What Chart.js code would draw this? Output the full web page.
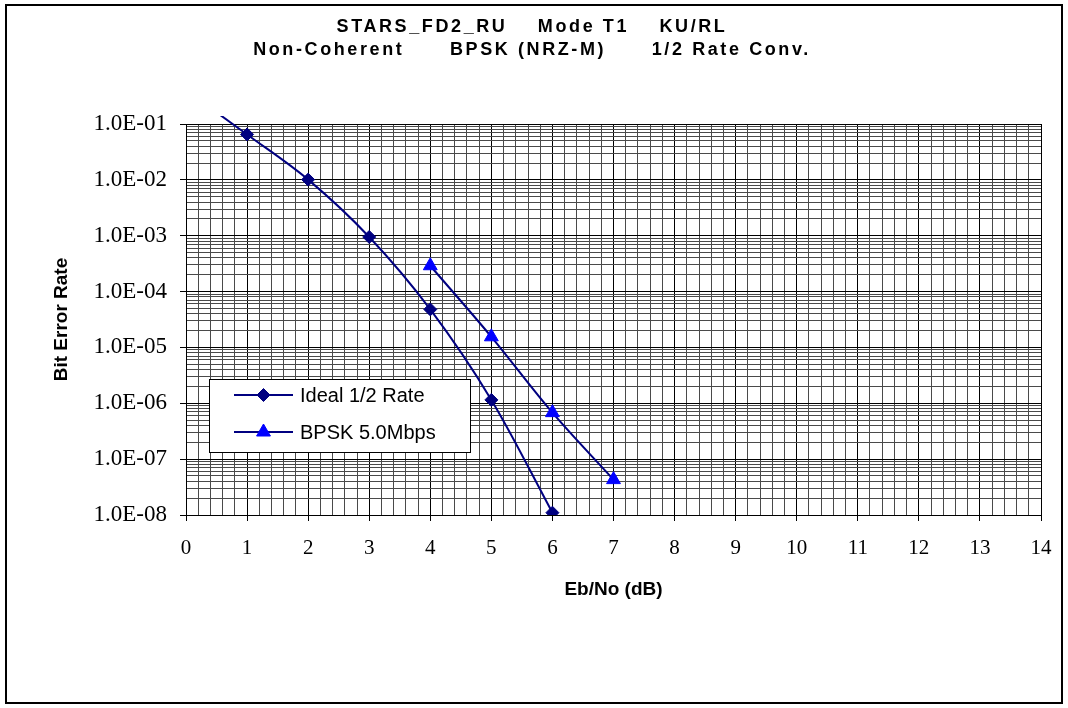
<!DOCTYPE html>
<html>
<head>
<meta charset="utf-8">
<script src="https://cdn.jsdelivr.net/npm/chart.js@4.4.1/dist/chart.umd.min.js"></script>
<style>
  html, body { margin: 0; padding: 0; background: #fff; }
  #wrap { width: 1068px; height: 708px; position: relative; }
</style>
</head>
<body>
<div id="wrap"><canvas id="berChart"></canvas></div>
<script>
// データ
const idealX = [0, 1, 2, 3, 4, 5, 6];
const idealY = [0.4, 0.065, 0.0101, 9.5e-4, 4.8e-5, 1.15e-6, 1.1e-8];
const bpskX = [4, 5, 6, 7];
const bpskY = [2.9e-4, 1.55e-5, 6.8e-7, 4.3e-8];

const seriesNames = ['Ideal 1/2 Rate', 'BPSK 5.0Mbps'];
const titleLines = ['STARS_FD2_RU    Mode T1    KU/RL', 'Non-Coherent      BPSK (NRZ-M)      1/2 Rate Conv.'];
const xTickLabels = ['0', '1', '2', '3', '4', '5', '6', '7', '8', '9', '10', '11', '12', '13', '14'];
const yTickLabels = ['1.0E-08', '1.0E-07', '1.0E-06', '1.0E-05', '1.0E-04', '1.0E-03', '1.0E-02', '1.0E-01'];

const NAVY = '#000080';
const BLUE = '#0000ff';

// 目盛り（0.2刻み / 対数 1..9）
function buildXTicks(scale) {
  const ticks = [];
  for (let i = 0; i <= 70; i++) ticks.push({ value: i / 5 });
  scale.ticks = ticks;
}
function buildYTicks(scale) {
  const ticks = [];
  for (let e = -8; e <= -1; e++) {
    for (let m = 1; m <= 9; m++) {
      if (e === -1 && m > 1) break;
      ticks.push({ value: m * Math.pow(10, e) });
    }
  }
  scale.ticks = ticks;
}
const isInt = v => Math.abs(v - Math.round(v)) < 1e-6;
const isDecade = v => isInt(Math.log10(v));

// 枠・タイトル・凡例
const framePlugin = {
  id: 'frame',
  beforeDraw(chart) {
    const c = chart.ctx;
    c.save();
    c.fillStyle = '#fff';
    c.fillRect(0, 0, chart.width, chart.height);
    c.restore();
  },
  afterDraw(chart) {
    const c = chart.ctx;
    c.save();
    c.strokeStyle = '#000';
    c.lineWidth = 2;
    c.strokeRect(6, 5, 1056, 698);

    c.fillStyle = '#000';
    c.textAlign = 'center';
    c.textBaseline = 'middle';
    c.font = 'bold 18px "Liberation Sans", Arial, sans-serif';
    c.letterSpacing = '2.6px';
    c.fillText(titleLines[0], 532, 27);
    c.fillText(titleLines[1], 532, 50);
    c.letterSpacing = '0px';

    // 凡例
    const bx = 209.5, by = 379.5, bw = 261, bh = 73;
    c.fillStyle = '#fff';
    c.fillRect(bx, by, bw, bh);
    c.strokeStyle = '#000';
    c.lineWidth = 1;
    c.strokeRect(bx, by, bw, bh);
    const rows = [395, 432];
    chart.data.datasets.forEach((ds, i) => {
      const y = rows[i];
      c.strokeStyle = ds.borderColor;
      c.lineWidth = 2;
      c.beginPath();
      c.moveTo(234, y);
      c.lineTo(293, y);
      c.stroke();
      c.fillStyle = ds.pointBackgroundColor;
      c.strokeStyle = ds.pointBorderColor;
      c.lineWidth = 1;
      Chart.helpers.drawPoint(c, { pointStyle: ds.pointStyle, radius: ds.legendRadius, borderWidth: 1, rotation: 0 }, 263.5, y);
      c.fillStyle = '#000';
      c.textAlign = 'left';
      c.font = '20px "Liberation Sans", Arial, sans-serif';
      c.fillText(ds.label, 300, y + 1);
    });
    c.restore();
  }
};

const ctx = document.getElementById('berChart').getContext('2d');
new Chart(ctx, {
  type: 'scatter',
  data: {
    datasets: [
      {
        label: seriesNames[0],
        data: idealX.map((x, i) => ({ x, y: idealY[i] })),
        showLine: true,
        tension: 0.35,
        borderColor: NAVY,
        borderWidth: 2,
        pointStyle: 'rectRot',
        pointRadius: c => (c.dataIndex === 0 ? 0 : 6.5),
        legendRadius: 6.5,
        pointBackgroundColor: NAVY,
        pointBorderColor: NAVY,
        pointBorderWidth: 1,
        clip: { left: 0, top: 8, right: 0, bottom: 0 },
      },
      {
        label: seriesNames[1],
        data: bpskX.map((x, i) => ({ x, y: bpskY[i] })),
        showLine: true,
        tension: 0.35,
        borderColor: NAVY,
        borderWidth: 2,
        pointStyle: 'triangle',
        pointRadius: 8,
        legendRadius: 8,
        pointBackgroundColor: BLUE,
        pointBorderColor: BLUE,
        pointBorderWidth: 1,
      },
    ],
  },
  options: {
    responsive: true,
    maintainAspectRatio: false,
    animation: false,
    layout: { padding: { left: 40, top: 124, right: 27, bottom: 90 } },
    plugins: {
      legend: { display: false },
      title: { display: false },
      tooltip: { enabled: false },
    },
    scales: {
      x: {
        type: 'linear',
        min: 0,
        max: 14,
        afterBuildTicks: buildXTicks,
        afterFit: s => { s.height = 103; },
        border: { color: '#000', width: 1 },
        grid: {
          color: c => (c.tick && isInt(c.tick.value) ? '#000' : '#4a4a4a'),
          tickColor: c => (c.tick && isInt(c.tick.value) ? '#000' : 'rgba(0,0,0,0)'),
          tickLength: 6,
        },
        ticks: {
          autoSkip: false,
          maxRotation: 0,
          padding: 15,
          color: '#000',
          font: { family: '"Liberation Serif", "Times New Roman", serif', size: 21 },
          callback: v => (isInt(v) ? xTickLabels[Math.round(v)] : ''),
        },
        title: {
          display: true,
          text: 'Eb/No (dB)',
          color: '#000',
          font: { family: '"Liberation Sans", Arial, sans-serif', size: 19, weight: 'bold' },
          padding: { top: 0, bottom: 17 },
        },
      },
      y: {
        type: 'logarithmic',
        min: 1e-8,
        max: 0.1,
        afterBuildTicks: buildYTicks,
        afterFit: s => { s.width = 146; },
        border: { color: '#000', width: 1 },
        grid: {
          color: c => (c.tick && isDecade(c.tick.value) ? '#000' : '#4a4a4a'),
          tickColor: c => (c.tick && isDecade(c.tick.value) ? '#000' : 'rgba(0,0,0,0)'),
          tickLength: 6,
        },
        ticks: {
          autoSkip: false,
          padding: 13,
          color: '#000',
          font: { family: '"Liberation Serif", "Times New Roman", serif', size: 23 },
          callback: v => (isDecade(v) ? yTickLabels[Math.round(Math.log10(v)) + 8] : ''),
        },
        title: {
          display: true,
          text: 'Bit Error Rate',
          color: '#000',
          font: { family: '"Liberation Sans", Arial, sans-serif', size: 19, weight: 'bold' },
          padding: { top: 10, bottom: 0 },
        },
      },
    },
  },
  plugins: [framePlugin],
});
</script>
</body>
</html>
